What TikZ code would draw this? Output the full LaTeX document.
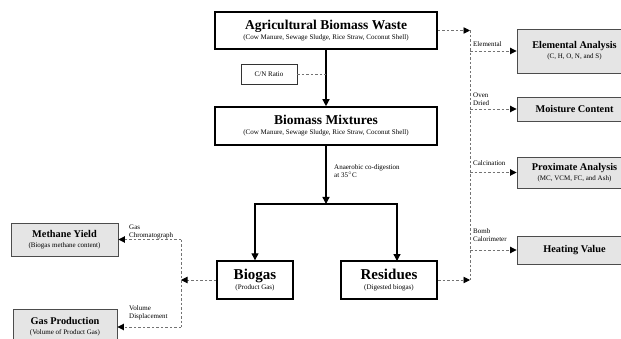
\documentclass[tikz,border=0pt]{standalone}
\usepackage{fontspec}
\setmainfont{Liberation Serif}
\usetikzlibrary{arrows.meta}
\newcommand\dgBig[1]{{\fontsize{13.5}{14}\selectfont\bfseries #1}}
\newcommand\dgMid[1]{{\fontsize{15}{16}\selectfont\bfseries #1}}
\newcommand\dgSma[1]{{\fontsize{10.3}{11}\selectfont\bfseries #1}}
\newcommand\dgSub[1]{{\fontsize{7}{8}\selectfont #1}}
\begin{document}
\begin{tikzpicture}[x=1pt,y=-1pt,
  bigbox/.style={draw, line width=1.6pt, fill=white, align=center, inner sep=0pt},
  greybox/.style={draw=black!70, line width=0.9pt, fill=black!10, align=center, inner sep=0pt},
  thinbox/.style={draw=black!80, line width=0.6pt, fill=white, inner sep=0pt, font=\fontsize{7}{8}\selectfont},
  lbl/.style={inner sep=0pt, align=left, font=\fontsize{7}{8}\selectfont},
  arr/.style={line width=1.3pt, -{Triangle[length=7pt,width=7pt]}},
  seg/.style={line width=1.3pt},
  darr/.style={draw=black!55, line width=0.9pt, dash pattern=on 2.5pt off 2pt, -{Triangle[length=6.5pt,width=6.5pt,color=black]}},
  dseg/.style={draw=black!55, line width=0.9pt, dash pattern=on 2.5pt off 2pt}
]
\useasboundingbox (0,0) rectangle (621,339);
\clip (0,0) rectangle (621,339);

% main column
\node[bigbox, minimum width=222pt, minimum height=37pt] (agri) at (326,30.5)
  {\dgBig{Agricultural Biomass Waste}\\[-2pt]\dgSub{(Cow Manure, Sewage Sludge, Rice Straw, Coconut Shell)}};
\node[thinbox, minimum width=56pt, minimum height=20pt] (cn) at (269,74) {C/N Ratio};
\node[bigbox, minimum width=222pt, minimum height=38pt] (mix) at (326,126)
  {\dgBig{Biomass Mixtures}\\[-2pt]\dgSub{(Cow Manure, Sewage Sludge, Rice Straw, Coconut Shell)}};
\node[bigbox, line width=1.4pt, minimum width=76pt, minimum height=38pt] (bio) at (255,280)
  {\dgMid{Biogas}\\[-2pt]\dgSub{(Product Gas)}};
\node[bigbox, line width=2.2pt, minimum width=96pt, minimum height=38pt] (res) at (389,280)
  {\dgMid{Residues}\\[-2pt]\dgSub{(Digested biogas)}};

% right analysis boxes
\node[greybox, minimum width=115pt, minimum height=44pt] (elem) at (574.5,51)
  {\dgSma{Elemental Analysis}\\[-2pt]\dgSub{(C, H, O, N, and S)}};
\node[greybox, minimum width=115pt, minimum height=24pt] (moist) at (574.5,109)
  {\dgSma{Moisture Content}};
\node[greybox, minimum width=115pt, minimum height=31pt] (prox) at (574.5,172.5)
  {\dgSma{Proximate Analysis}\\[-2pt]\dgSub{(MC, VCM, FC, and Ash)}};
\node[greybox, minimum width=115pt, minimum height=28pt] (heat) at (574.5,250)
  {\dgSma{Heating Value}};

% left boxes
\node[greybox, minimum width=107pt, minimum height=33pt] (meth) at (64.5,239.5)
  {\dgSma{Methane Yield}\\[-2pt]\dgSub{(Biogas methane content)}};
\node[greybox, minimum width=104pt, minimum height=36pt] (gasp) at (65,327)
  {\dgSma{Gas Production}\\[-2pt]\dgSub{(Volume of Product Gas)}};

% coordinates
\coordinate (cnj) at (326,74);
\coordinate (split) at (326,204);
\coordinate (rs) at (397,261);
\coordinate (rt) at (470,30.5);
\coordinate (rb) at (470,280);
\coordinate (r1) at (470,51);
\coordinate (r2) at (470,109);
\coordinate (r3) at (470,172.5);
\coordinate (r4) at (470,250);
\coordinate (lm) at (181,280);
\coordinate (l1) at (181,239.5);
\coordinate (l2) at (181,327);

% solid flow
\draw[arr] (agri.south) -- (mix.north);
\draw[arr] (mix.south) -- (split);
\draw[arr] (split) -| (bio.north);
\draw[arr] (split) -| (rs);

% C/N ratio
\draw[dseg] (cn.east) -- (cnj);

% right dashed
\draw[darr] (agri.east) -- (rt);
\draw[darr] (res.east) -- (rb);
\draw[dseg] (rt) -- (rb);
\draw[darr] (r1) -- (elem.west);
\draw[darr] (r2) -- (moist.west);
\draw[darr] (r3) -- (prox.west);
\draw[darr] (r4) -- (heat.west);

% left dashed
\draw[darr] (bio.west) -- (lm);
\draw[dseg] (l1) -- (l2);
\draw[darr] (l1) -- (meth.east);
\draw[darr] (l2) -- (gasp.east);

% labels
\node[lbl, anchor=north west] (lab1) at (334,164) {Anaerobic co-digestion\\at 35$^{\circ}$C};
\node[lbl, anchor=south west] (lab2) at (473,47) {Elemental};
\node[lbl, anchor=south west] (lab3) at (473,106) {Oven\\Dried};
\node[lbl, anchor=south west] (lab4) at (473,166) {Calcination};
\node[lbl, anchor=south west] (lab5) at (473,242) {Bomb\\Calorimeter};
\node[lbl, anchor=south west] (lab6) at (129,239) {Gas\\Chromatograph};
\node[lbl, anchor=south west] (lab7) at (129,320) {Volume\\Displacement};
\end{tikzpicture}
\end{document}
